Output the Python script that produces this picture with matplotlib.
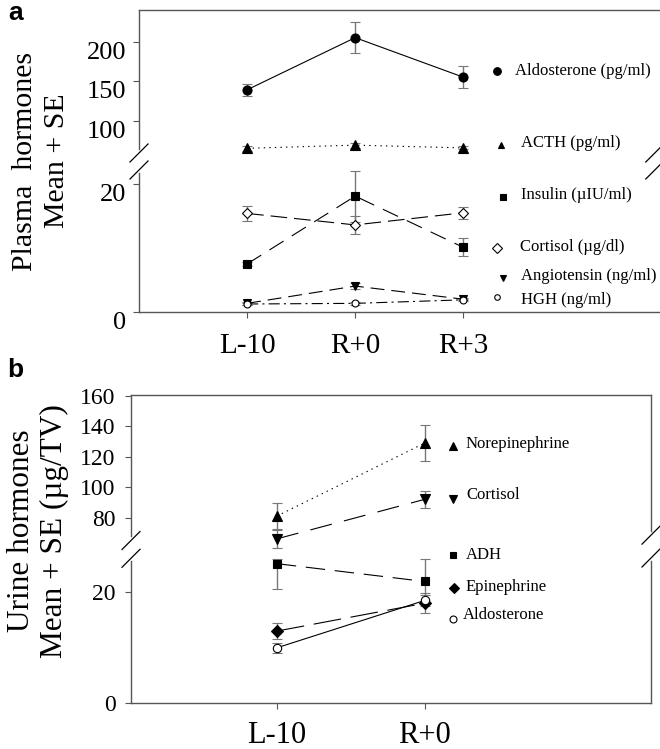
import numpy as np
import matplotlib
matplotlib.use("Agg")
import matplotlib.pyplot as plt
from matplotlib.lines import Line2D

plt.rcParams["font.family"] = ["Liberation Serif", "DejaVu Serif"]
plt.rcParams["lines.scale_dashes"] = False

W, H = 660, 749

# ---- panel a: plasma hormones ----
times_a = ["L-10", "R+0", "R+3"]
aldo_a = [139, 205, 155]
aldo_a_se = [7.5, 20, 14]
acth_a = [65, 69, 65.5]
acth_a_se = [3, 3, 2]
insulin_a = [7.5, 18.1, 10.1]
insulin_a_se = [0.3, 4.0, 1.4]
cortisol_a = [15.4, 13.6, 15.5]
cortisol_a_se = [1.2, 1.45, 0.9]
angio_a = [1.35, 4.05, 2.0]
angio_a_se = [0.2, 0.5, 0.2]
hgh_a = [1.25, 1.35, 1.9]
hgh_a_se = [0.2, 0.2, 0.2]
ticks_a = [0, 20, 100, 150, 200]

# ---- panel b: urine hormones ----
times_b = ["L-10", "R+0"]
norepi_b = [81, 129]
norepi_b_se = [8.5, 11.6]
cortisol_b = [66, 92]
cortisol_b_se = [6, 5.6]
adh_b = [25.0, 21.8]
adh_b_lo = [4.5, 4.0]
adh_b_hi = [0.8, 4.0]
epi_b = [12.9, 17.9]
epi_b_se = [1.4, 1.8]
aldo_b = [9.9, 18.4]
aldo_b_se = [0.9, 1.0]
ticks_b = [0, 20, 80, 100, 120, 140, 160]

SPINE = "#555555"
ERR = "#777777"


def broken_scale(vals, pos):
    # piecewise linear y scale to fake the axis break
    def fwd(v):
        return np.interp(v, vals, pos)

    def inv(p):
        return np.interp(p, pos, vals)

    return fwd, inv


def series(ax, x, y, err, marker, ms, dashes, mfc="black"):
    ax.errorbar(x, y, yerr=err, fmt="none", ecolor=ERR, elinewidth=1,
                capsize=3.5, capthick=0.8, zorder=2)
    kw = dict(color="black", lw=0.8, marker=marker, ms=ms, mfc=mfc,
              mec="black", mew=0.8, zorder=3)
    if dashes is None:
        ax.plot(x, y, ls="-", **kw)
    else:
        ax.plot(x, y, dashes=dashes, **kw)


def break_marks(ax, xfrac, yfracs, half=9):
    bb = ax.get_position()
    w_px, h_px = bb.width * W, bb.height * H
    ax.plot([xfrac, xfrac], yfracs, color="white", lw=4, transform=ax.transAxes,
            clip_on=False, zorder=5)
    for yf in yfracs:
        ax.plot([xfrac - half / w_px, xfrac + half / w_px],
                [yf - half / h_px, yf + half / h_px], color="black", lw=0.9,
                transform=ax.transAxes, clip_on=False, zorder=6)


def legend_item(fig, mx, my, tx, ty, label, marker, ms, mfc="black", size=12):
    fig.add_artist(Line2D([mx / W], [1 - my / H], marker=marker, ms=ms, mfc=mfc,
                          mec="black", mew=0.8, ls="none",
                          transform=fig.transFigure))
    fig.text(tx / W, 1 - ty / H, label, fontsize=size, va="center", ha="left")


def style_axes(ax):
    for s in ax.spines.values():
        s.set_color(SPINE)
        s.set_linewidth(1)
    ax.tick_params(direction="out", length=4, color=SPINE, width=0.8)


fig = plt.figure(figsize=(W / 100, H / 100), dpi=100)

# ================= panel a =================
ax1 = fig.add_axes([139 / W, 1 - 312 / H, (660 - 139) / W, (312 - 10) / H])
fa, ia = broken_scale([-100, 0, 22.5, 50, 400], [-640, 0, 144, 151.8, 151.8 + 350 * 0.79])
ax1.set_yscale("function", functions=(fa, ia))
xa = np.arange(len(times_a))

series(ax1, xa, aldo_a, aldo_a_se, "o", 6.5, None)
series(ax1, xa, acth_a, acth_a_se, "^", 6.5, (1, 3))
series(ax1, xa, insulin_a, insulin_a_se, "s", 5.5, (12, 7))
series(ax1, xa, cortisol_a, cortisol_a_se, "D", 5.5, (12, 5), mfc="white")
series(ax1, xa, angio_a, angio_a_se, "v", 6, (10, 5))
series(ax1, xa, hgh_a, hgh_a_se, "o", 5, (8, 3, 1.5, 3), mfc="white")

ax1.set_ylim(0, 240)
ax1.set_xlim(-1.0, 3.82)
ax1.set_yticks(ticks_a)
ax1.set_yticklabels([str(t) for t in ticks_a], fontsize=19)
for lbl in ax1.get_yticklabels():
    lbl.set_va("top")
ax1.set_xticks(xa)
ax1.set_xticklabels(times_a, fontsize=21)
style_axes(ax1)
ax1.tick_params(axis="y", pad=5)
ax1.tick_params(axis="x", pad=11)
ax1.spines["right"].set_visible(False)
break_marks(ax1, 0.0, [0.5265, 0.4702])
break_marks(ax1, 0.99, [0.5265, 0.4702])

fig.text(41 / W, 1 - 161 / H, "Plasma  hormones\nMean + SE", rotation=90,
         fontsize=21.5, ha="center", va="center", linespacing=1.3)
fig.text(8 / W, 1 - 1 / H, "a", fontsize=19, fontweight="bold",
         family="Liberation Sans", va="top", ha="left")

legend_item(fig, 497, 71, 515, 71, "Aldosterone (pg/ml)", "o", 5.5)
legend_item(fig, 501, 145, 521, 143, "ACTH (pg/ml)", "^", 5)
legend_item(fig, 503, 197, 521, 195, "Insulin (\u00b5IU/ml)", "s", 4.5)
legend_item(fig, 497, 248, 520, 247, "Cortisol (\u00b5g/dl)", "D", 5, mfc="white")
legend_item(fig, 503, 278, 521, 276, "Angiotensin (ng/ml)", "v", 5)
legend_item(fig, 497, 297, 521, 300, "HGH (ng/ml)", "o", 4, mfc="white")

# ================= panel b =================
ax2 = fig.add_axes([131 / W, 1 - 703 / H, (651 - 131) / W, (703 - 395) / H])
fb, ib = broken_scale([-100, 0, 27, 60, 400], [-557, 0, 150.4, 154.9, 154.9 + 340 * 1.52])
ax2.set_yscale("function", functions=(fb, ib))
xb = np.arange(len(times_b))

series(ax2, xb, norepi_b, norepi_b_se, "^", 7, (1, 3))
series(ax2, xb, cortisol_b, cortisol_b_se, "v", 7, (16, 9))
series(ax2, xb, adh_b, [adh_b_lo, adh_b_hi], "s", 5.5, (14, 7))
series(ax2, xb, epi_b, epi_b_se, "D", 6, (20, 7))
series(ax2, xb, aldo_b, aldo_b_se, "o", 6, None, mfc="white")

ax2.set_ylim(0, 160.6)
ax2.set_xlim(-0.986, 2.53)
ax2.set_yticks(ticks_b)
ax2.set_yticklabels([str(t) for t in ticks_b], fontsize=17)
ax2.set_xticks(xb)
ax2.set_xticklabels(times_b, fontsize=22)
style_axes(ax2)
ax2.tick_params(axis="y", pad=7)
ax2.tick_params(axis="x", pad=9)
break_marks(ax2, 0.0, [0.5276, 0.4698])
break_marks(ax2, 1.0, [0.545, 0.4708])

fig.text(38 / W, 1 - 531 / H, "Urine hormones\nMean + SE (\u00b5g/TV)", rotation=90,
         fontsize=22.5, ha="center", va="center", linespacing=1.15)
fig.text(7 / W, 1 - 358 / H, "b", fontsize=19, fontweight="bold",
         family="Liberation Sans", va="top", ha="left")

legend_item(fig, 453, 446, 466, 444, "Norepinephrine", "^", 5.5)
legend_item(fig, 453, 499, 466, 495, "Cortisol", "v", 5.5)
legend_item(fig, 453, 555, 466, 555, "ADH", "s", 4.5)
legend_item(fig, 454, 588, 466, 587, "Epinephrine", "D", 5)
legend_item(fig, 453, 619, 463, 615, "Aldosterone", "o", 5, mfc="white")

fig.savefig("out.png", dpi=100)
